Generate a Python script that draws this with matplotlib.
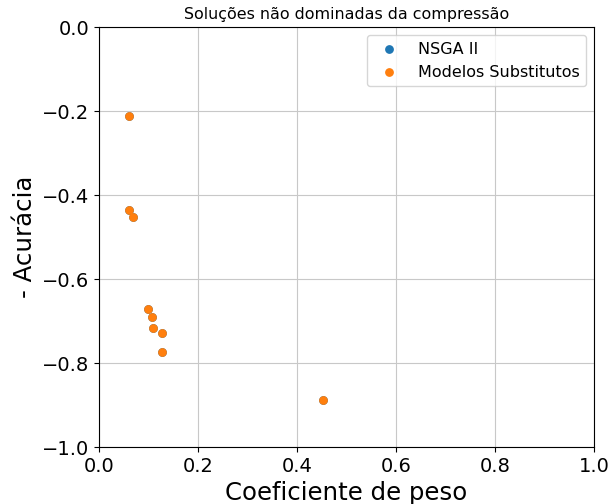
import numpy as np
import matplotlib
matplotlib.use("Agg")
import matplotlib.pyplot as plt

# Non-dominated solutions (weight coefficient, -accuracy)
nsga_x = [0.060, 0.060, 0.069, 0.098, 0.106, 0.108, 0.127, 0.127, 0.453]
nsga_y = [-0.212, -0.436, -0.452, -0.670, -0.691, -0.717, -0.728, -0.773, -0.889]

surr_x = [0.060, 0.060, 0.069, 0.098, 0.106, 0.108, 0.127, 0.127, 0.453]
surr_y = [-0.212, -0.436, -0.452, -0.670, -0.691, -0.717, -0.728, -0.773, -0.889]

fig = plt.figure(figsize=(6.08, 5.04), dpi=100)
ax = fig.add_axes([0.163, 0.113, 0.814, 0.833])

ax.scatter(nsga_x, nsga_y, color="#1f77b4", s=28, label="NSGA II")
ax.scatter(surr_x, surr_y, color="#ff7f0e", s=28, label="Modelos Substitutos")

ax.set_xlim(0, 1.0)
ax.set_ylim(-1.0, 0)
ax.set_xticks(np.arange(0, 1.01, 0.2))
ax.set_yticks(np.arange(-1.0, 0.01, 0.2))
ax.tick_params(labelsize=14)
ax.grid(True, color="#c8c8c8", linewidth=0.8)

ax.set_title("Soluções não dominadas da compressão", fontsize=11.4)
ax.set_xlabel("Coeficiente de peso", fontsize=17.6)
ax.set_ylabel("- Acurácia", fontsize=17.6)
ax.legend(loc="upper right", fontsize=11.5)

fig.savefig("out.png")
